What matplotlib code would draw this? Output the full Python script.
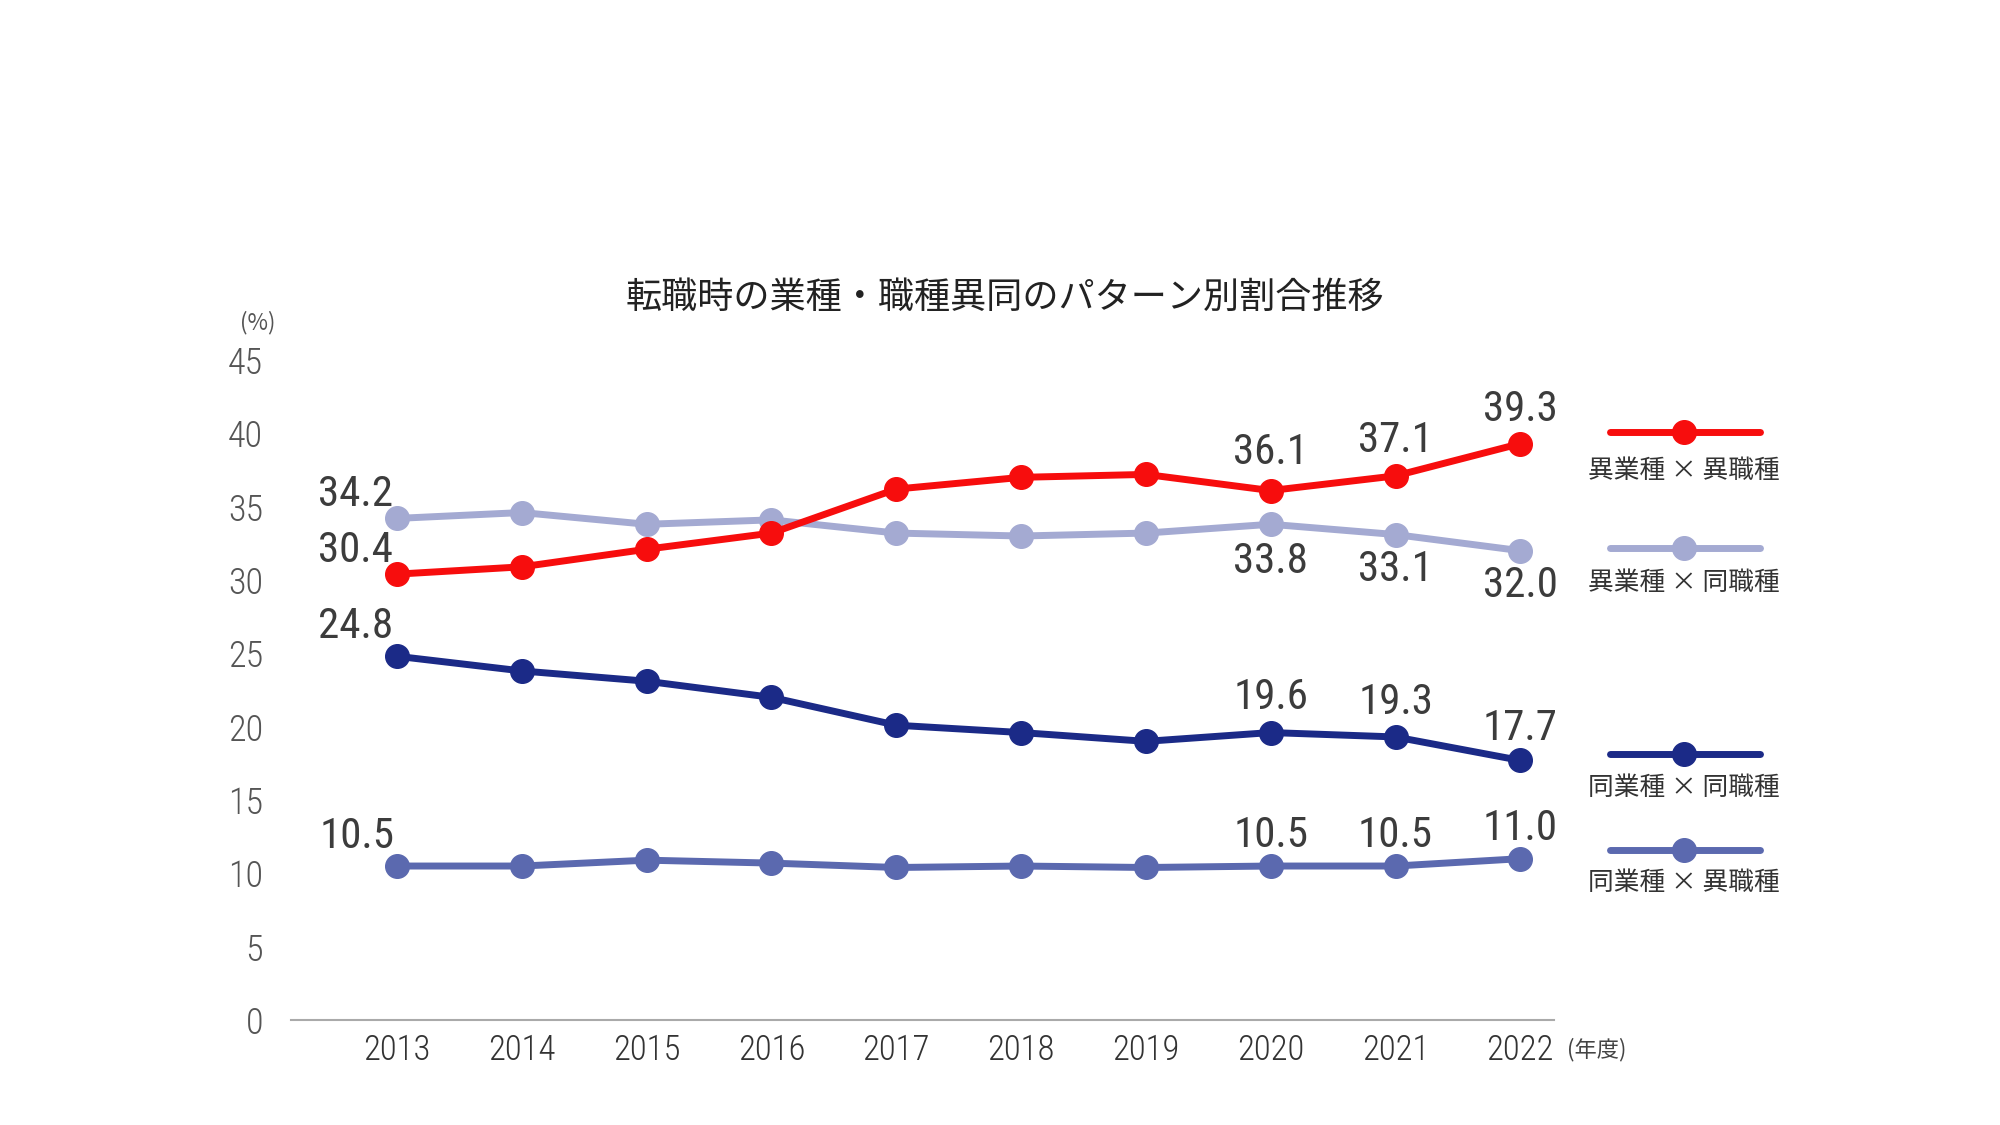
import matplotlib
matplotlib.use("Agg")
import matplotlib.pyplot as plt

plt.rcParams['font.family'] = ['Noto Sans CJK JP', 'DejaVu Sans']

years = [2013, 2014, 2015, 2016, 2017, 2018, 2019, 2020, 2021, 2022]
diff_ind_diff_job = [30.4, 30.9, 32.1, 33.2, 36.2, 37.0, 37.2, 36.1, 37.1, 39.3]
diff_ind_same_job = [34.2, 34.6, 33.8, 34.1, 33.2, 33.0, 33.2, 33.8, 33.1, 32.0]
same_ind_same_job = [24.8, 23.8, 23.1, 22.0, 20.1, 19.6, 19.0, 19.6, 19.3, 17.7]
same_ind_diff_job = [10.5, 10.5, 10.9, 10.7, 10.4, 10.5, 10.4, 10.5, 10.5, 11.0]

names = ['異業種 × 異職種', '異業種 × 同職種', '同業種 × 同職種', '同業種 × 異職種']
colors = ['#F70D0D', '#A4AAD2', '#1B2A87', '#5B69AF']
yticks = [0, 5, 10, 15, 20, 25, 30, 35, 40, 45]

num_font = ['Roboto Condensed', 'Roboto', 'DejaVu Sans']

fig = plt.figure(figsize=(20, 11.25), dpi=100)
ax = fig.add_axes([0.1455, 0.0933, 0.6315, 0.5867])

series = [diff_ind_diff_job, diff_ind_same_job, same_ind_same_job, same_ind_diff_job]
# draw light line first so red goes over it
order = [1, 3, 2, 0]
for i in order:
    ax.plot(years, series[i], color=colors[i], lw=5, marker='o', ms=17,
            solid_capstyle='round', zorder=3 + (i == 0))

ax.set_xlim(2013 - 0.85, 2022 + 0.27)
ax.set_ylim(0, 45)
ax.set_xticks(years)
ax.set_xticklabels([str(y) for y in years], family=num_font, fontsize=25,
                   color='#333333', fontweight='light')
ax.set_yticks(yticks)
ax.set_yticklabels([str(v) for v in yticks], family=num_font, fontsize=26,
                   color='#555555', fontweight='light')
ax.tick_params(axis='x', length=0, pad=10)
ax.tick_params(axis='y', length=0, pad=20)
for s in ['top', 'right', 'left']:
    ax.spines[s].set_visible(False)
ax.spines['bottom'].set_color('#AAAAAA')
ax.spines['bottom'].set_linewidth(1.5)

# data labels: (series index, year index, dx px, dy px)
label_pos = [
    (0, 0, -42, 24), (0, 7, 0, 38), (0, 8, 0, 35), (0, 9, 0, 34),
    (1, 0, -42, 24), (1, 7, 0, -37), (1, 8, 0, -35), (1, 9, 0, -35),
    (2, 0, -42, 30), (2, 7, 0, 35), (2, 8, 0, 34), (2, 9, 0, 32),
    (3, 0, -40, 30), (3, 7, 0, 31), (3, 8, 0, 31), (3, 9, 0, 30),
]
for si, yi, dx, dy in label_pos:
    ax.annotate(f'{series[si][yi]:.1f}', (years[yi], series[si][yi]),
                xytext=(dx, dy), textcoords='offset pixels', ha='center', va='center',
                family=num_font, fontsize=31, color='#3c3c3c', fontweight='normal')

fig.text(0.5025, 0.735, '転職時の業種・職種異同のパターン別割合推移', ha='center', va='center',
         fontsize=26, color='#222222')
fig.text(0.129, 0.713, '(%)', ha='center', va='center', fontsize=16, color='#555555')
fig.text(0.7985, 0.067, '(年度)', ha='center', va='center', fontsize=16, color='#444444')

# legend drawn manually on the right
leg_y = [432, 548, 754, 850]
lab_y = [471, 583, 788, 883]
for i in range(4):
    yl = 1 - leg_y[i] / 1125
    fig.lines.append(plt.Line2D([0.805, 0.880], [yl, yl], transform=fig.transFigure,
                                color=colors[i], lw=5, solid_capstyle='round'))
    fig.lines.append(plt.Line2D([0.842], [yl], transform=fig.transFigure,
                                color=colors[i], marker='o', ms=17))
    fig.text(0.842, 1 - lab_y[i] / 1125, names[i], ha='center', va='center',
             fontsize=18.5, color='#333333')

fig.savefig('out.png', dpi=100, facecolor='white')
